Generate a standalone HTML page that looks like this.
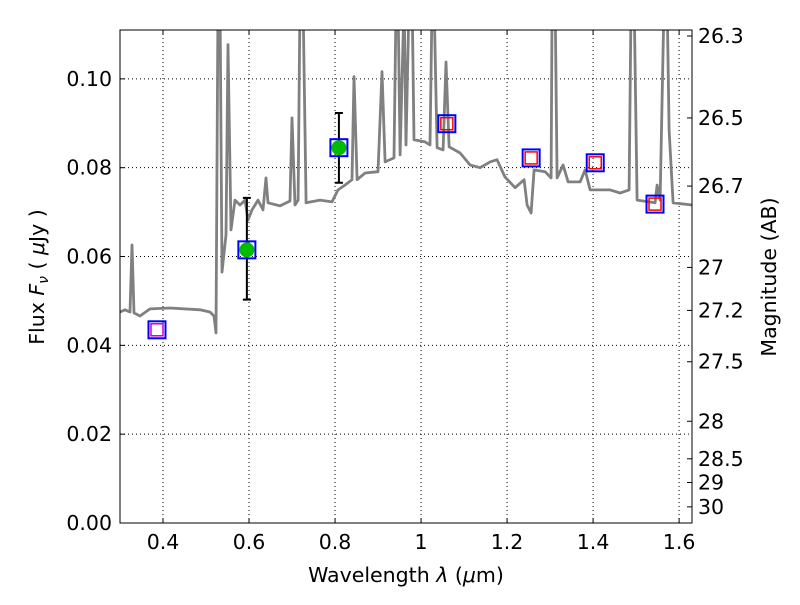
<!DOCTYPE html>
<html><head><meta charset="utf-8"><style>body{margin:0;background:#fff}svg text{font-family:"DejaVu Sans","Liberation Sans",sans-serif}</style></head>
<body>
<svg id="c" width="800" height="600"></svg>
<script>
const specLam=[0.300,0.3116,0.3233,0.3279,0.3326,0.3465,0.3698,0.4163,0.4860,0.5093,0.5186,0.5233,0.5279,0.5326,0.5372,0.5465,0.5512,0.5581,0.5674,0.5791,0.5907,0.5977,0.6070,0.6209,0.6326,0.6395,0.6442,0.6721,0.6953,0.7000,0.7070,0.7140,0.7186,0.7256,0.7326,0.7651,0.7930,0.8070,0.8233,0.8395,0.8442,0.8512,0.8698,0.9000,0.9093,0.9163,0.9372,0.9419,0.9465,0.9512,0.9605,0.9651,0.9721,0.9791,0.9837,1.0093,1.0209,1.0256,1.0302,1.0372,1.0512,1.0581,1.0651,1.0907,1.1140,1.1372,1.1605,1.1767,1.1953,1.2186,1.2395,1.2465,1.2558,1.2628,1.2884,1.3023,1.3047,1.3116,1.3163,1.3302,1.3419,1.3698,1.3814,1.3930,1.4395,1.4628,1.4837,1.4884,1.4953,1.5023,1.5442,1.5488,1.5558,1.5651,1.5721,1.5767,1.5860,1.6302];
const specFlux=[0.0475,0.0480,0.0475,0.0626,0.0473,0.0466,0.0482,0.0484,0.0480,0.0475,0.0466,0.0428,0.118,0.118,0.0565,0.0649,0.1077,0.0660,0.0727,0.0716,0.0727,0.0682,0.0705,0.0727,0.0705,0.0777,0.0721,0.0714,0.0725,0.0912,0.0716,0.0727,0.118,0.118,0.0721,0.0727,0.0723,0.0750,0.0761,0.0773,0.1005,0.0773,0.0788,0.0791,0.1016,0.0813,0.0822,0.118,0.118,0.0829,0.118,0.0851,0.118,0.118,0.0863,0.0858,0.0851,0.118,0.118,0.0845,0.0840,0.1038,0.0847,0.0833,0.0806,0.0800,0.0813,0.0818,0.0779,0.0755,0.0773,0.0716,0.0698,0.0795,0.0791,0.0777,0.118,0.118,0.0777,0.0806,0.0768,0.0768,0.0795,0.0750,0.0750,0.0743,0.0750,0.118,0.118,0.0727,0.0721,0.0761,0.0727,0.118,0.118,0.0885,0.0721,0.0716];
const greenLam=[0.595,0.809];
const greenFlux=[0.0615,0.0845];
const greenErrLo=[0.0503,0.0766];
const greenErrHi=[0.0732,0.0923];
const blueLam=[0.386,0.595,0.809,1.06,1.256,1.405,1.544];
const blueFlux=[0.0435,0.0615,0.0845,0.0899,0.0822,0.0811,0.0718];
const redLam=[1.06,1.256,1.405,1.544];
const redFlux=[0.0899,0.0822,0.0811,0.0718];
const magentaLam=[0.386];
const magentaFlux=[0.0435];
const xTicks=[0.4,0.6,0.8,1.0,1.2,1.4,1.6];
const xTickLabels=["0.4","0.6","0.8","1","1.2","1.4","1.6"];
const yTicks=[0,0.02,0.04,0.06,0.08,0.10];
const yTickLabels=["0.00","0.02","0.04","0.06","0.08","0.10"];
const magTicks=[26.3,26.5,26.7,27,27.2,27.5,28,28.5,29,30];
const L=120,R=692,T=30,B=523,x0=0.3,x1=1.630,y0=0,y1=0.111;
const X=v=>L+(v-x0)/(x1-x0)*(R-L);
const Y=v=>B-(v-y0)/(y1-y0)*(B-T);
const NS="http://www.w3.org/2000/svg";const svg=document.getElementById('c');
function mk(t,a,p){const e=document.createElementNS(NS,t);for(const k in a)e.setAttribute(k,a[k]);(p||svg).appendChild(e);return e;}
const defs=mk('defs',{});const cp=mk('clipPath',{id:'cp'},defs);mk('rect',{x:L,y:T,width:R-L,height:B-T},cp);
xTicks.forEach((v,i)=>{const g=mk('line',{x1:X(v),x2:X(v),y1:T,y2:B,stroke:'#000','stroke-dasharray':'1,3','stroke-width':1});

mk('line',{x1:X(v),x2:X(v),y1:B,y2:B-5,stroke:'#000'});mk('line',{x1:X(v),x2:X(v),y1:T,y2:T+5,stroke:'#000'});
const t=mk('text',{x:X(v),y:B+26,'font-size':20.5,'text-anchor':'middle'});t.textContent=xTickLabels[i];
});
yTicks.forEach((v,i)=>{const g=mk('line',{x1:L,x2:R,y1:Y(v),y2:Y(v),stroke:'#000','stroke-dasharray':'1,3','stroke-width':1});

mk('line',{x1:L,x2:L+5,y1:Y(v),y2:Y(v),stroke:'#000'});
const t=mk('text',{x:L-8,y:Y(v)+7,'font-size':20.5,'text-anchor':'end'});t.textContent=yTickLabels[i];
});
magTicks.forEach(m=>{const f=Math.pow(10,(23.9-m)/2.5);const y=Y(f);mk('line',{x1:R-5,x2:R,y1:y,y2:y,stroke:'#000'});
const t=mk('text',{x:R+6,y:y+7,'font-size':20.5});t.textContent=String(m);
});
const pd=specLam.map((l,i)=>(i?'L':'M')+X(l).toFixed(1)+','+Y(specFlux[i]).toFixed(1)).join('');
const sp=mk('path',{d:pd,fill:'none',stroke:'#808080','stroke-width':2.8,'clip-path':'url(#cp)','stroke-linejoin':'round'});

greenLam.forEach((l,i)=>{const x=X(l);const e=mk('path',{d:`M${x},${Y(greenErrLo[i])}V${Y(greenErrHi[i])}M${x-4},${Y(greenErrLo[i])}h8M${x-4},${Y(greenErrHi[i])}h8`,stroke:'#000','stroke-width':2,fill:'none'});
});
blueLam.forEach((l,i)=>{const r=mk('rect',{x:X(l)-8.5,y:Y(blueFlux[i])-8.5,width:17,height:17,fill:'none',stroke:'#0000ff','stroke-width':2});
});
redLam.forEach((l,i)=>{const r=mk('rect',{x:X(l)-6,y:Y(redFlux[i])-6,width:12,height:12,fill:'none',stroke:'#ff0000','stroke-width':1.5});
});
magentaLam.forEach((l,i)=>{const r=mk('rect',{x:X(l)-6,y:Y(magentaFlux[i])-6,width:12,height:12,fill:'none',stroke:'#cc00cc','stroke-width':1.5});
});
greenLam.forEach((l,i)=>{const c=mk('circle',{cx:X(l),cy:Y(greenFlux[i]),r:7.5,fill:'#00bb00'});
});
const fr=mk('rect',{x:L,y:T,width:R-L,height:B-T,fill:'none',stroke:'#000','stroke-width':1});

let t=mk('text',{x:406,y:582,'font-size':20.5,'text-anchor':'middle'});t.innerHTML='Wavelength  <tspan font-style="italic">λ</tspan> (<tspan font-style="italic">μ</tspan>m)';

t=mk('text',{x:0,y:0,'font-size':20.5,'text-anchor':'middle',transform:'translate(44,277) rotate(-90)'});t.innerHTML='Flux  <tspan font-style="italic">F<tspan font-size="14" dy="4">ν</tspan></tspan><tspan dy="-4">  (  </tspan><tspan font-style="italic">μ</tspan>Jy )';

t=mk('text',{x:0,y:0,'font-size':20.5,'text-anchor':'middle',transform:'translate(776,277) rotate(-90)'});t.textContent='Magnitude (AB)';

</script>
</body></html>
